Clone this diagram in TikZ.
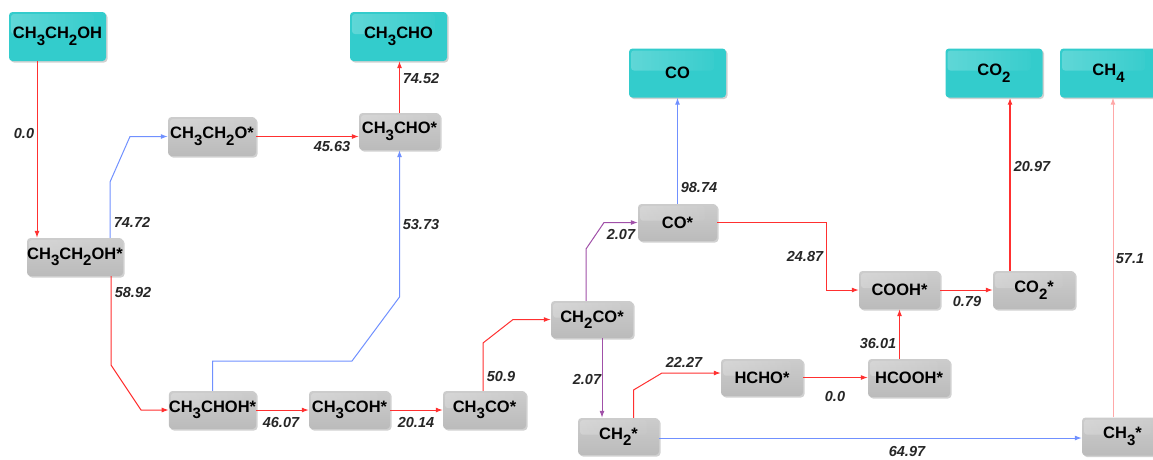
\documentclass[tikz,border=0pt]{standalone}
\usepackage{fontspec}
\setmainfont{Liberation Sans}
\usetikzlibrary{arrows.meta,shadows,fadings,calc}
\tikzfading[name=glossfade, left color=transparent!20, right color=transparent!100]
\newcommand\sbs[1]{\raisebox{-6.5pt}{\fontsize{15}{15}\selectfont #1}}
\newcommand\nodefnt{\fontsize{16.5}{18}\selectfont\bfseries}
\newcommand\labfnt{\fontsize{14.5}{16}\selectfont\bfseries\itshape}
\definecolor{cyanbox}{HTML}{33CCCC}
\definecolor{graytop}{HTML}{CCCCCC}
\definecolor{graybot}{HTML}{BBBBBB}
\definecolor{lred}{HTML}{FF3030}
\definecolor{lpink}{HTML}{FFA8A8}
\definecolor{lblue}{HTML}{7090FF}
\definecolor{lpurple}{HTML}{A050A8}
\tikzset{
  gloss/.style={path picture={\fill[white,opacity=0.28,path fading=glossfade,rounded corners=3pt]
      ([shift={(2pt,-2pt)}]path picture bounding box.north west) rectangle
      ($(path picture bounding box.north east)!0.45!(path picture bounding box.south east)+(-12pt,0)$);}},
  prod/.style={rounded corners=3.5pt, fill=cyanbox, inner sep=0pt,
      minimum width=97pt, minimum height=49pt, font=\nodefnt, gloss,
      drop shadow={shadow xshift=1.5pt, shadow yshift=-1.5pt, opacity=0.3, fill=black!60}},
  ads/.style={rounded corners=3.5pt, top color=graytop, bottom color=graybot, inner sep=0pt,
      minimum width=81pt, minimum height=38pt, font=\nodefnt, gloss,
      drop shadow={shadow xshift=1.5pt, shadow yshift=-1.5pt, opacity=0.3, fill=black!60}},
  lab/.style={font=\labfnt, inner sep=0pt, text=black!85},
  conn/.style={line width=1pt, -{Latex[length=7pt,width=5pt]}},
  rl/.style={conn, draw=lred},
  pl/.style={conn, draw=lpink},
  bl/.style={conn, draw=lblue},
  ul/.style={conn, draw=lpurple},
}
\begin{document}
\begin{tikzpicture}[x=1pt,y=-1pt]
\useasboundingbox (0,0) rectangle (1153,459);
% products
\node[prod] (eth) at (57.5,36.5) {CH\sbs{3}CH\sbs{2}OH};
\node[prod] (cho) at (398.5,36.5) {CH\sbs{3}CHO};
\node[prod] (co)  at (677.5,73) {CO};
\node[prod] (co2) at (994,73) {CO\sbs{2}};
\node[prod] (ch4) at (1108.5,73) {CH\sbs{4}};
% adsorbed
\node[ads, minimum width=88pt, minimum height=39pt] (ethO) at (212,136.5) {CH\sbs{3}CH\sbs{2}O*};
\node[ads, minimum height=37pt] (choads) at (399.5,131.5) {CH\sbs{3}CHO*};
\node[ads, minimum width=96pt] (ethads) at (75,257) {CH\sbs{3}CH\sbs{2}OH*};
\node[ads, minimum width=87pt] (chohads) at (212.5,410) {CH\sbs{3}CHOH*};
\node[ads] (cohads) at (349.5,410) {CH\sbs{3}COH*};
\node[ads, minimum width=83pt] (ch3co) at (484.5,410) {CH\sbs{3}CO*};
\node[ads, minimum width=82pt, minimum height=37pt] (ch2co) at (592,319.5) {CH\sbs{2}CO*};
\node[ads, minimum height=37pt] (ch2) at (618.5,436.5) {CH\sbs{2}*};
\node[ads, minimum width=82pt, minimum height=37pt] (hcho) at (762,377.5) {HCHO*};
\node[ads, minimum width=79pt, minimum height=37pt] (coads) at (677.5,222.5) {CO*};
\node[ads] (cooh) at (899.5,290) {COOH*};
\node[ads, minimum width=82pt] (co2ads) at (1034,290) {CO\sbs{2}*};
\node[ads, minimum width=82pt] (hcooh) at (909,378) {HCOOH*};
\node[ads] (ch3) at (1122.5,436.5) {CH\sbs{3}*};
% connectors
\draw[rl] ($(eth.south)+(-20.5,0)$) coordinate (e1) -- (e1 |- ethads.north);
\draw[bl] ($(ethads.north)+(35,0)$) -- (110,182) -- (130,136.5) -- (ethO.west);
\draw[rl] (ethO.east) -- (ethO.east -| choads.west);
\draw[rl] (choads.north) -- (choads.north |- cho.south);
\draw[rl] ($(ethads.south)+(36,0)$) -- (111,365) -- (141,410) -- (chohads.west);
\draw[bl] (chohads.north) -- (212.5,361) -- (352,361) -- (399.5,297) -- (choads.south);
\draw[rl] (chohads.east) -- (cohads.west);
\draw[rl] (cohads.east) -- (ch3co.west);
\draw[rl] ($(ch3co.north)+(-1.5,0)$) -- (483,343) -- (513,319.5) -- (ch2co.west);
\draw[ul] ($(ch2co.north)+(-6,0)$) -- (586,249) -- (604,222.5) -- (coads.west);
\draw[ul] ($(ch2co.south)+(10,0)$) coordinate (e11) -- (e11 |- ch2.north);
\draw[rl] ($(ch2.north)+(15,0)$) -- (633.5,390) -- (662,373) -- ($(hcho.west)+(0,-4.5)$);
\draw[rl] (hcho.east) -- (hcho.east -| hcooh.west);
\draw[rl] (cooh.south |- hcooh.north) -- (cooh.south);
\draw[rl] (coads.east) -- (826,222.5) -- (826,290) -- (cooh.west);
\draw[rl] (cooh.east) -- (co2ads.west);
\draw[rl, line width=1.4pt] ($(co2ads.north)+(-24,0)$) coordinate (e17) -- (e17 |- co2.south);
\draw[pl] ($(ch3.north)+(-9.5,0)$) coordinate (e18) -- (e18 |- ch4.south);
\draw[bl] ($(ch2.east)+(0,1.5)$) coordinate (e19) -- (e19 -| ch3.west);
\draw[bl] (coads.north) -- (coads.north |- co.south);
% labels
\node[lab] (l1) at (24,134) {0.0};
\node[lab] (l2) at (132,222) {74.72};
\node[lab] (l3) at (332,147) {45.63};
\node[lab] (l4) at (421,79) {74.52};
\node[lab] (l5) at (421,224) {53.73};
\node[lab] (l6) at (133,292) {58.92};
\node[lab] (l7) at (281,422) {46.07};
\node[lab] (l8) at (416,422) {20.14};
\node[lab] (l9) at (501,376) {50.9};
\node[lab] (l10) at (621,234) {2.07};
\node[lab] (l11) at (587,379) {2.07};
\node[lab] (l12) at (684,362) {22.27};
\node[lab] (l13) at (699,188) {98.74};
\node[lab] (l14) at (805,256) {24.87};
\node[lab] (l15) at (1032,167) {20.97};
\node[lab] (l16) at (1130,259) {57.1};
\node[lab] (l17) at (967,301) {0.79};
\node[lab] (l18) at (878,343) {36.01};
\node[lab] (l19) at (835,396) {0.0};
\node[lab] (l20) at (907,451) {64.97};
\end{tikzpicture}
\end{document}
